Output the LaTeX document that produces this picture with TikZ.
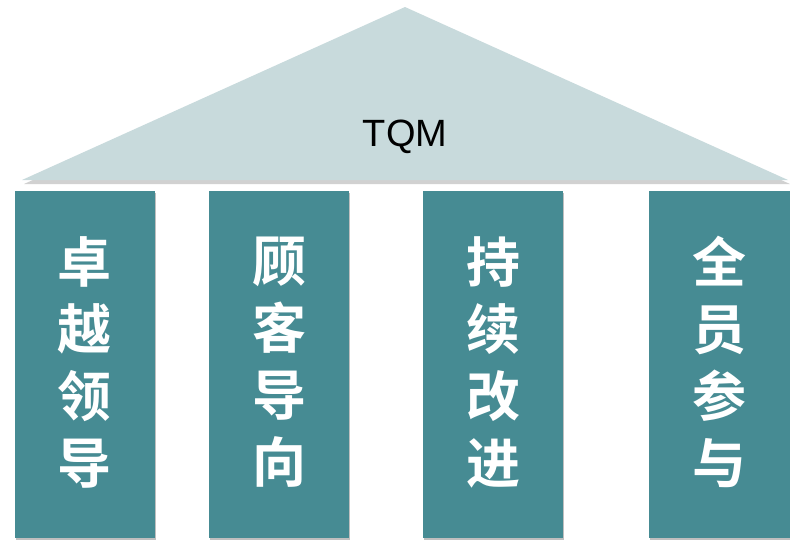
\documentclass[tikz,border=0pt]{standalone}
\usepackage{fontspec}
\setmainfont{Liberation Sans}
\newfontfamily\cjk{Noto Sans CJK SC Bold}
\usetikzlibrary{shadows}
\definecolor{roofc}{HTML}{C8DADC}
\definecolor{pillarc}{HTML}{468B93}
\tikzset{
  pillar/.style={fill=pillarc, draw=none, minimum width=140pt, minimum height=347pt, anchor=north west, inner sep=0pt,
    drop shadow={shadow xshift=1pt, shadow yshift=-1.5pt, opacity=0.25, fill=black}},
  ptext/.style={text=white, font=\cjk\fontsize{54}{67}\selectfont, align=center, inner sep=0pt}
}
\begin{document}
\begin{tikzpicture}[x=1pt,y=-1pt]
\useasboundingbox (0,0) rectangle (790,542);
% roof shadow
\fill[black, opacity=0.18] (24,184) -- (405,11) -- (790,184) -- cycle;
\fill[roofc] (22,180) -- (405,7) -- (788,180) -- cycle;
\node[font=\fontsize{38}{40}\selectfont] (tqm) at (405,137) {TQM};
\node[pillar] (p1) at (15,191) {};
\node[pillar] (p2) at (209,191) {};
\node[pillar] (p3) at (423,191) {};
\node[pillar, minimum width=141pt] (p4) at (649,191) {};
\node[ptext] (t1) at (84,362) {卓\\越\\领\\导};
\node[ptext] (t2) at (279,362) {顾\\客\\导\\向};
\node[ptext] (t3) at (493,362) {持\\续\\改\\进};
\node[ptext] (t4) at (719,362) {全\\员\\参\\与};
\end{tikzpicture}
\end{document}
